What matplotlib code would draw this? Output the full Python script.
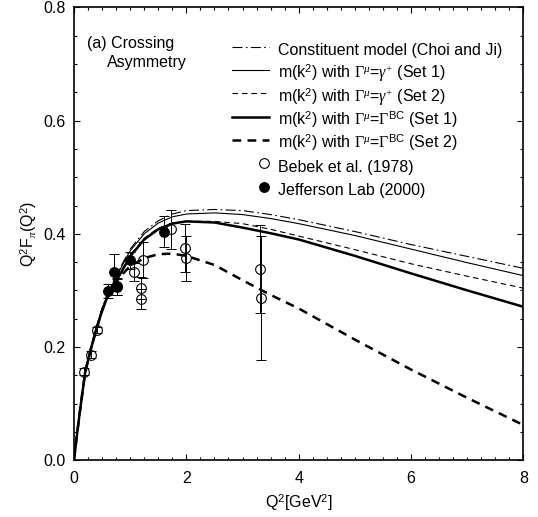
import numpy as np
import matplotlib
matplotlib.use("Agg")
import matplotlib.pyplot as plt
from matplotlib.legend_handler import HandlerLine2D
from matplotlib.lines import Line2D

plt.rcParams['font.family'] = ['Liberation Sans', 'DejaVu Sans']
plt.rcParams['mathtext.fontset'] = 'custom'
plt.rcParams['mathtext.rm'] = 'Liberation Serif'
plt.rcParams['mathtext.it'] = 'Liberation Serif:italic'
plt.rcParams['mathtext.sf'] = 'Liberation Sans'

# model curves
q2 = [0, 0.05, 0.1, 0.2, 0.3, 0.4, 0.5, 0.6, 0.8, 1.0, 1.25, 1.5, 1.75, 2.0, 2.5, 3.0, 3.5, 4.0, 5.0, 6.0, 7.0, 8.0]
choi_ji = [0, 0.043, 0.084, 0.158, 0.199, 0.236, 0.268, 0.296, 0.336, 0.373, 0.404, 0.423, 0.435, 0.441, 0.443, 0.441, 0.434, 0.425, 0.404, 0.381, 0.360, 0.339]
gplus_set1 = [0, 0.042, 0.083, 0.157, 0.198, 0.235, 0.267, 0.294, 0.333, 0.370, 0.400, 0.419, 0.430, 0.435, 0.437, 0.434, 0.427, 0.418, 0.397, 0.373, 0.349, 0.326]
gplus_set2 = [0, 0.042, 0.082, 0.156, 0.196, 0.232, 0.264, 0.290, 0.326, 0.362, 0.392, 0.410, 0.419, 0.422, 0.422, 0.418, 0.408, 0.396, 0.372, 0.347, 0.325, 0.304]
bc_set1 = [0, 0.042, 0.082, 0.156, 0.196, 0.232, 0.264, 0.290, 0.325, 0.360, 0.390, 0.408, 0.418, 0.422, 0.420, 0.411, 0.401, 0.390, 0.361, 0.330, 0.300, 0.271]
bc_set2 = [0, 0.042, 0.082, 0.156, 0.196, 0.232, 0.264, 0.290, 0.322, 0.343, 0.357, 0.364, 0.365, 0.361, 0.345, 0.318, 0.292, 0.268, 0.213, 0.160, 0.110, 0.062]

# Bebek et al. (1978)
bebek_q2 = [0.18, 0.30, 0.41, 0.77, 1.06, 1.19, 1.19, 1.22, 1.72, 1.97, 2.00, 3.31, 3.33]
bebek_f = [0.156, 0.186, 0.230, 0.306, 0.333, 0.304, 0.285, 0.354, 0.408, 0.375, 0.357, 0.338, 0.287]
bebek_err = [0.006, 0.006, 0.006, 0.015, 0.016, 0.020, 0.018, 0.032, 0.034, 0.042, 0.040, 0.078, 0.110]

# Jefferson Lab (2000)
jlab_q2 = [0.61, 0.71, 0.77, 1.00, 1.60]
jlab_f = [0.299, 0.332, 0.307, 0.353, 0.404]
jlab_err = [0.012, 0.033, 0.015, 0.015, 0.027]


class MarkerRight(HandlerLine2D):
    # put the marker next to the text, like in the original legend
    def create_artists(self, legend, orig_handle, xdescent, ydescent,
                       width, height, fontsize, trans):
        line = Line2D([-xdescent + width - 4], [(height - ydescent) / 2])
        self.update_prop(line, orig_handle, legend)
        line.set_transform(trans)
        return [line]


fig = plt.figure(figsize=(5.38, 5.17), dpi=100)
ax = fig.add_axes([0.1375, 0.110, 0.8355, 0.8755])

ax.plot(q2, choi_ji, color='black', lw=0.8, dashes=(9, 3, 1.5, 3),
        label='Constituent model (Choi and Ji)')
ax.plot(q2, gplus_set1, color='black', lw=0.8,
        label=r'm(k$^{\mathsf{2}}$) with $\Gamma^{\mu}$=$\gamma^{+}$ (Set 1)')
ax.plot(q2, gplus_set2, color='black', lw=0.8, dashes=(5, 3.5),
        label=r'm(k$^{\mathsf{2}}$) with $\Gamma^{\mu}$=$\gamma^{+}$ (Set 2)')
ax.plot(q2, bc_set1, color='black', lw=1.8,
        label=r'm(k$^{\mathsf{2}}$) with $\Gamma^{\mu}$=$\Gamma^{\mathsf{BC}}$ (Set 1)')
ax.plot(q2, bc_set2, color='black', lw=1.8, dashes=(3.5, 2.5),
        label=r'm(k$^{\mathsf{2}}$) with $\Gamma^{\mu}$=$\Gamma^{\mathsf{BC}}$ (Set 2)')

ax.errorbar(bebek_q2, bebek_f, yerr=bebek_err, fmt='none', ecolor='black',
            elinewidth=0.7, capsize=3.5, capthick=0.7)
ax.errorbar(jlab_q2, jlab_f, yerr=jlab_err, fmt='none', ecolor='black',
            elinewidth=0.7, capsize=3.5, capthick=0.7)
hb, = ax.plot(bebek_q2, bebek_f, 'o', ms=7, mfc='none', mec='black', mew=0.8,
              label='Bebek et al. (1978)')
hj, = ax.plot(jlab_q2, jlab_f, 'o', ms=7, mfc='black', mec='black', mew=0.8,
              label='Jefferson Lab (2000)')

ax.set_xlim(0, 8)
ax.set_ylim(0, 0.8)
ax.set_xticks([0, 2, 4, 6, 8])
ax.set_yticks([0.0, 0.2, 0.4, 0.6, 0.8])
ax.set_yticklabels(['0.0', '0.2', '0.4', '0.6', '0.8'])
ax.set_xticks(np.arange(0, 8.01, 0.25), minor=True)
ax.set_yticks(np.arange(0, 0.801, 0.05), minor=True)
ax.tick_params(which='both', direction='in', top=True, right=True,
               labelsize=11.5, width=0.8)
ax.tick_params(which='major', length=4.5, pad=6)
ax.tick_params(axis='x', which='major', pad=8)
ax.tick_params(which='minor', length=2.5)
for s in ax.spines.values():
    s.set_linewidth(1.2)

ax.set_xlabel(r'Q$^{\mathsf{2}}$[GeV$^{\mathsf{2}}$]', fontsize=11.5, labelpad=4)
ax.set_ylabel(r'Q$^{\mathsf{2}}$F$_{\pi}$(Q$^{\mathsf{2}}$)', fontsize=11.5, labelpad=3)

ax.text(0.0296, 0.9105, '(a) Crossing', transform=ax.transAxes,
        fontsize=11.5, va='baseline')
ax.text(0.0734, 0.8685, 'Asymmetry', transform=ax.transAxes,
        fontsize=11.5, va='baseline')

handles, labels = ax.get_legend_handles_labels()
ax.legend(handles, labels, loc='upper left', bbox_to_anchor=(0.3515, 0.932),
          frameon=False, fontsize=11.5, borderpad=0, borderaxespad=0,
          handlelength=2.34, handletextpad=0.56, handleheight=1.87,
          labelspacing=0.0, numpoints=1,
          handler_map={hb: MarkerRight(), hj: MarkerRight()})

fig.savefig('out.png', dpi=100)
